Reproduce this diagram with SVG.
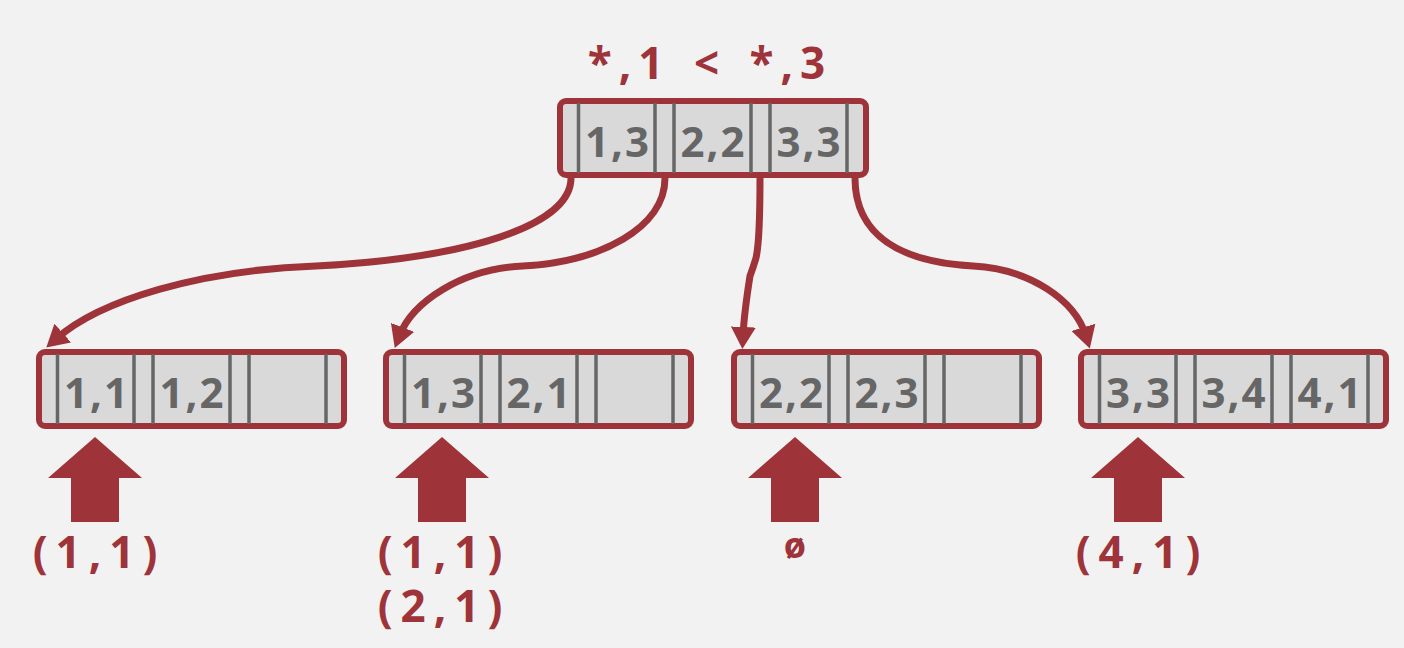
<svg xmlns="http://www.w3.org/2000/svg" width="1404" height="648" viewBox="0 0 1404 648">
  <style>
    .frame { fill: #d9d9d9; stroke: #9e343a; stroke-width: 6; }
    .sep { stroke: #666666; stroke-width: 3.5; }
    .cell { font-family: "Open Sans", "Liberation Sans", sans-serif; font-weight: bold; font-size: 42px; fill: #666666; text-anchor: middle; letter-spacing: 2px; }
    .lbl { font-family: "Open Sans", "Liberation Sans", sans-serif; font-weight: bold; font-size: 44px; fill: #9e343a; text-anchor: middle; letter-spacing: 8px; }
    .conn { fill: none; stroke: #9e343a; stroke-width: 7; stroke-linecap: butt; }
    .block { fill: #9e343a; }
  </style>
  <defs>
    <marker id="ah" markerUnits="userSpaceOnUse" viewBox="0 0 22 25" refX="9" refY="12.5" markerWidth="22" markerHeight="25" orient="auto">
      <path d="M0,0 L22,12.5 L0,25 Z" fill="#9e343a"/>
    </marker>
    <g id="seps">
      <line class="sep" x1="21.5" y1="5" x2="21.5" y2="75"/>
      <line class="sep" x1="98" y1="5" x2="98" y2="75"/>
      <line class="sep" x1="117" y1="5" x2="117" y2="75"/>
      <line class="sep" x1="194" y1="5" x2="194" y2="75"/>
      <line class="sep" x1="213" y1="5" x2="213" y2="75"/>
      <line class="sep" x1="290" y1="5" x2="290" y2="75"/>
    </g>
  </defs>
  <rect width="1404" height="648" fill="#f2f2f2"/>

  <g id="title">
    <text class="lbl" x="710" y="79" style="letter-spacing:7px;word-spacing:5px">*,1 &lt; *,3</text>
  </g>

  <g id="root" transform="translate(557,98)">
    <rect class="frame" x="3" y="3" width="306" height="74" rx="6"/>
    <use href="#seps"/>
    <text class="cell" x="61" y="59">1,3</text>
    <text class="cell" x="156.5" y="59">2,2</text>
    <text class="cell" x="252.5" y="59">3,3</text>
  </g>

  <g id="leaf1" transform="translate(36,349)">
    <rect class="frame" x="3" y="3" width="305" height="74" rx="6"/>
    <use href="#seps"/>
    <text class="cell" x="61" y="59">1,1</text>
    <text class="cell" x="156.5" y="59">1,2</text>
  </g>

  <g id="leaf2" transform="translate(383,349)">
    <rect class="frame" x="3" y="3" width="305" height="74" rx="6"/>
    <use href="#seps"/>
    <text class="cell" x="61" y="59">1,3</text>
    <text class="cell" x="156.5" y="59">2,1</text>
  </g>

  <g id="leaf3" transform="translate(731,349)">
    <rect class="frame" x="3" y="3" width="305" height="74" rx="6"/>
    <use href="#seps"/>
    <text class="cell" x="61" y="59">2,2</text>
    <text class="cell" x="156.5" y="59">2,3</text>
  </g>

  <g id="leaf4" transform="translate(1078,349)">
    <rect class="frame" x="3" y="3" width="305" height="74" rx="6"/>
    <use href="#seps"/>
    <text class="cell" x="61" y="59">3,3</text>
    <text class="cell" x="156.5" y="59">3,4</text>
    <text class="cell" x="252.5" y="59">4,1</text>
  </g>

  <g id="connectors">
    <path class="conn" marker-end="url(#ah)" d="M571,178 C571,225 470,258 316,266 C200,270 100,300 56,339"/>
    <path class="conn" marker-end="url(#ah)" d="M665,178 C665,228 600,262 523,266 C460,269 412,303 399.4,335.8"/>
    <path class="conn" marker-end="url(#ah)" d="M760,178 C760,215 759,245 756,258 Q753,268 750,276 C747,295 744,315 743,336"/>
    <path class="conn" marker-end="url(#ah)" d="M855,178 C855,235 900,262 973,266 C1030,269 1075,300 1086,336"/>
  </g>

  <g id="pointer1">
    <polygon class="block" points="95,437 142,478 119,478 119,522 71,522 71,478 48,478"/>
    <text class="lbl" x="99" y="568">(1,1)</text>
  </g>
  <g id="pointer2">
    <polygon class="block" points="442,437 489,478 466,478 466,522 418,522 418,478 395,478"/>
    <text class="lbl" x="444" y="568">(1,1)</text>
    <text class="lbl" x="444" y="622">(2,1)</text>
  </g>
  <g id="pointer3">
    <polygon class="block" points="795,437 842,478 819,478 819,522 771,522 771,478 748,478"/>
    <text class="lbl" x="795" y="558" style="font-size:36px;letter-spacing:0">ø</text>
  </g>
  <g id="pointer4">
    <polygon class="block" points="1138,437 1185,478 1162,478 1162,522 1114,522 1114,478 1091,478"/>
    <text class="lbl" x="1142" y="568">(4,1)</text>
  </g>
</svg>
